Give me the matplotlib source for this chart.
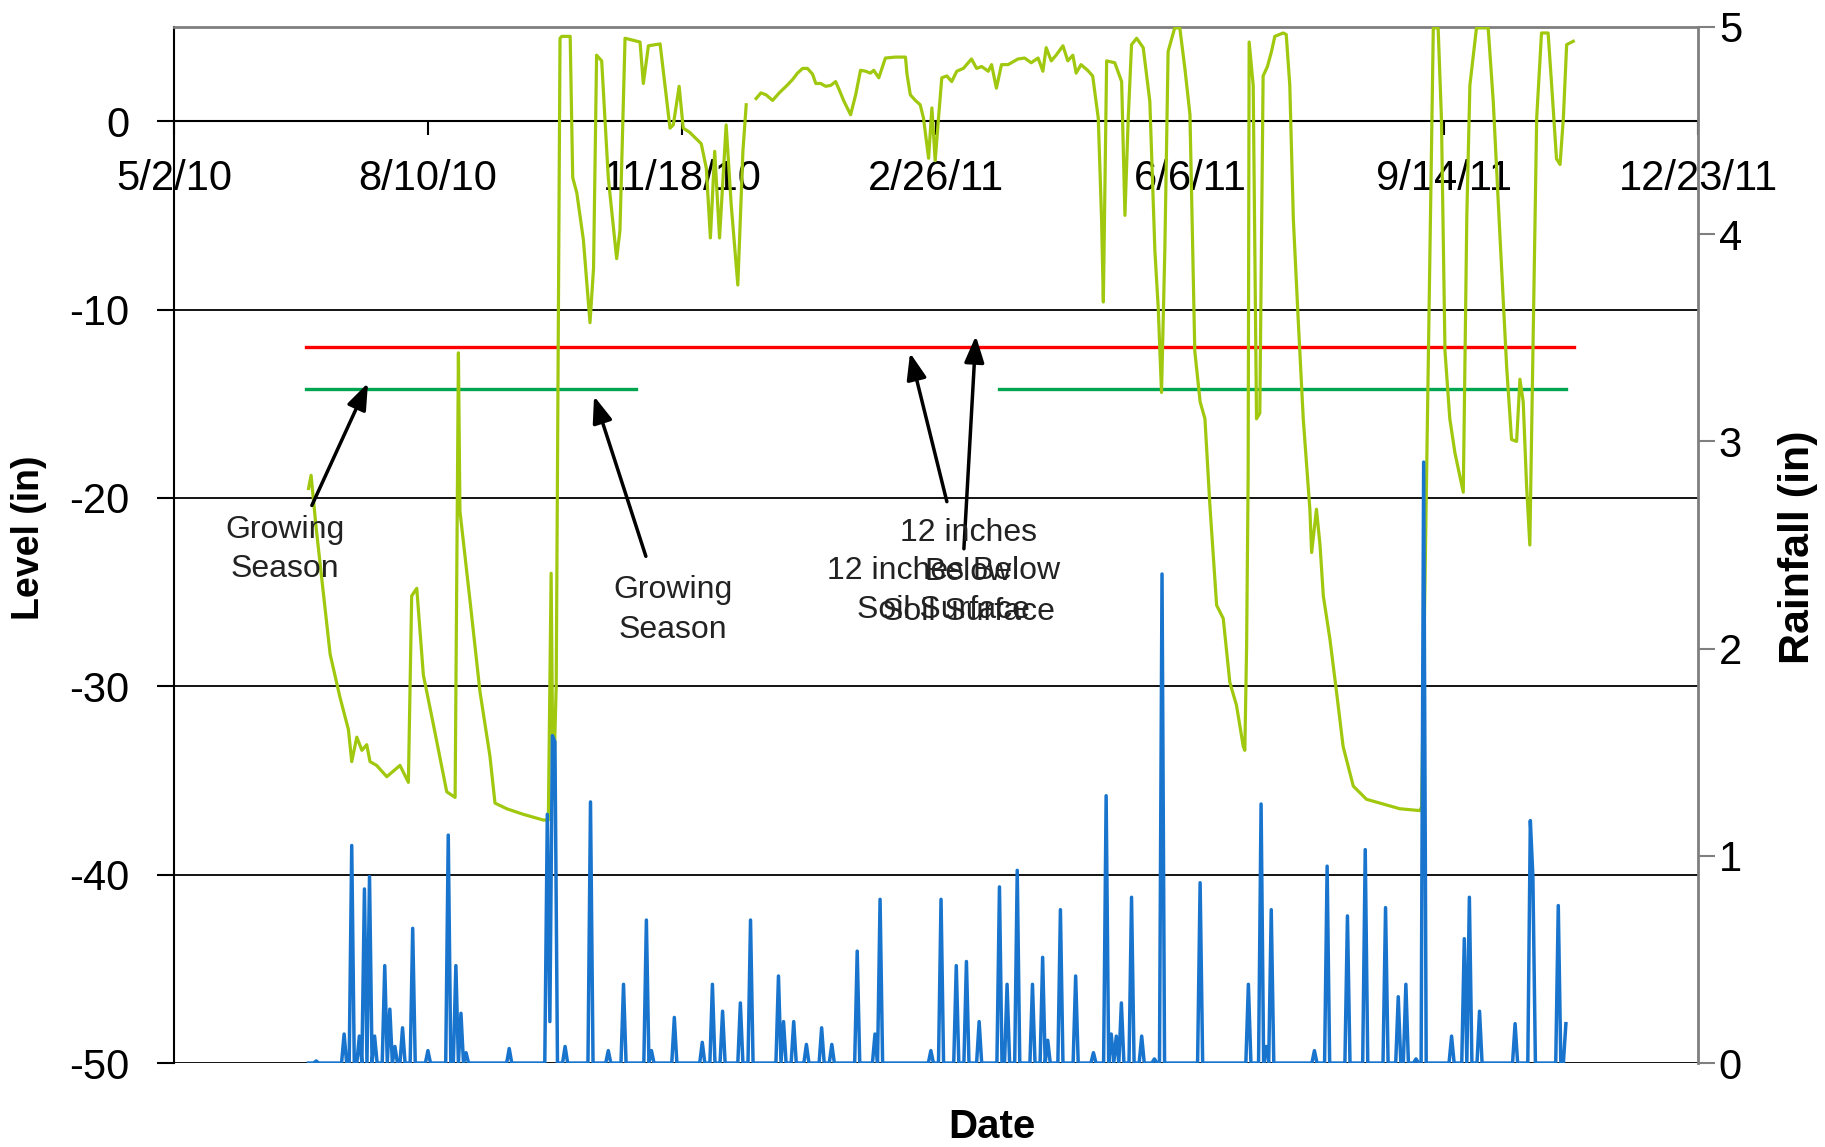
import matplotlib
matplotlib.use("Agg")
import matplotlib.pyplot as plt
import numpy as np

plt.rcParams['font.family'] = ['Liberation Sans', 'DejaVu Sans']
plt.rcParams['axes.unicode_minus'] = False

# x values are days since 5/2/10
tick_days = [0, 100, 200, 300, 400, 500, 600]
tick_labels = ["5/2/10", "8/10/10", "11/18/10", "2/26/11", "6/6/11", "9/14/11", "12/23/11"]

level_days = [53, 54, 56, 58.8, 61.5, 65.4, 68.7, 70, 72, 74, 75.9, 77.2, 79.8, 83.8, 86.4, 89, 92.3,
              93.6, 95.6, 98.2, 102.1, 107.4, 110.7, 112, 112.6, 116.6, 120.5, 124.4, 126.4, 131,
              137.6, 145.4, 147.4, 148.5, 149.3, 150.5, 152, 152.7, 156, 157, 158.6, 161.2, 163.8,
              165.2, 166.4, 168.4, 171, 174.3, 175.6, 177.6, 183.5, 184.8, 186.8, 191.4, 195.3,
              196.6, 198.9, 200.5, 203.1, 207.6, 209.6, 211.2, 212.9, 214.8, 217.4, 219.4, 222,
              224, 225.3, 227, 229.2, 231.1, 233.1, 235.7, 238.3, 241, 243.5, 245.5, 247.5, 249.4,
              251.4, 252.7, 254.6, 256.6, 258.6, 260.5, 261.8, 263.8, 266.4, 268.4, 270.3, 272.3,
              274.2, 275.5, 277.5, 280.1, 284, 288, 288.6, 289.9, 291.9, 293.8, 295.1, 297.1, 298.4,
              299.7, 301, 302.3, 304.3, 306.2, 308.2, 310.8, 314, 316, 318, 320.6, 321.9, 323.8,
              325.8, 328.4, 332.3, 334.9, 337.5, 340.2, 342.1, 343.4, 345.4, 347.3, 350, 351.9,
              353.9, 355.2, 357.1, 359.7, 361.7, 363.9, 365.2, 365.9, 367.2, 370.4, 373.1, 374.4,
              375.7, 377, 379, 381.6, 384.2, 386.2, 387.5, 388.8, 390.1, 391.4, 394, 396, 398, 400,
              401.9, 404, 405.9, 407.8, 410.5, 413.1, 415.7, 418.3, 421, 421.6, 422.3, 422.9, 423.3,
              424.9, 426.2, 427.5, 428.8, 430.5, 432.1, 433.4, 436.7, 437.9, 439.3, 440.7, 442.6,
              444.6, 447.2, 447.9, 449.8, 451.2, 452.5, 455.1, 457.7, 460.3, 464.3, 469.5, 474.8,
              482.6, 490.5, 491.2, 495.8, 497.7, 499, 500.4, 502.3, 504.3, 507.6, 509, 510.2, 512.8,
              517.4, 519.4, 522, 524.7, 526.6, 528.6, 529.9, 531.2, 532.5, 533.8, 536.5, 538.4, 541,
              542.4, 544.3, 545.7, 547, 548.3, 550.9]
level_vals = [-19.5, -18.8, -21.6, -25, -28.3, -30.6, -32.3, -34, -32.7, -33.4, -33.1, -34, -34.2,
              -34.8, -34.5, -34.2, -35.1, -25.2, -24.8, -29.4, -32, -35.6, -35.9, -12.3, -20.7,
              -25.5, -30.3, -33.7, -36.2, -36.5, -36.8, -37.1, -37.1, -24, -36, -30, 4.4, 4.5, 4.5,
              -3, -3.8, -6.3, -10.7, -7.8, 3.5, 3.2, -3, -7.3, -5.8, 4.4, 4.2, 2, 4, 4.1, -0.37,
              -0.2, 1.85, -0.37, -0.6, -1.2, -2.5, -6.2, -1.6, -6.2, -0.2, -4.45, -8.7, -1.6, 0.87,
              np.nan, 1.2, 1.5, 1.4, 1.1, 1.5, 1.85, 2.2, 2.55, 2.8, 2.8, 2.5, 2.0, 2.0, 1.85, 1.9,
              2.1, 1.7, 1.05, 0.34, 1.4, 2.7, 2.65, 2.55, 2.7, 2.3, 3.35, 3.4, 3.4, 2.5, 1.4, 1.1,
              0.87, 0.16, -1.97, 0.7, -2.1, 0.16, 2.3, 2.4, 2.1, 2.65, 2.8, 3.3, 2.8, 2.9, 2.65,
              3.0, 1.75, 3.0, 3.0, 3.3, 3.35, 3.1, 3.35, 2.65, 3.9, 3.2, 3.5, 4.0, 3.2, 3.5, 2.55,
              3.0, 2.7, 2.4, 0.16, -5.2, -9.6, 3.2, 3.1, 2.1, -5, 0.16, 4.06, 4.4, 3.9, 1.05, -6.9,
              -9.9, -14.4, -6.9, 3.7, 4.95, 4.95, 2.8, 0.34, -12.2, -14.9, -15.8, -20.3, -25.7,
              -26.4, -29.8, -31, -33.2, -33.4, -27.9, -19, 4.2, 1.9, -15.8, -15.5, 2.4, 2.9, 3.7,
              4.5, 4.68, 4.6, 1.9, -5.2, -10.5, -15.8, -20.6, -22.9, -20.6, -22.5, -25.2, -27.5,
              -30.3, -33.2, -35.3, -36, -36.2, -36.5, -36.6, -36.4, 4.95, 4.95, 0.16, -12.2, -15.8,
              -17.6, -19.7, -5, 1.9, 4.95, 4.95, 1.05, -6, -13.1, -16.9, -17, -13.7, -14.9, -19.3,
              -22.5, 0.16, 4.68, 4.68, 1.9, -2, -2.3, 0.16, 4.06, 4.24]

rain_first_day = 53
rain_last_day = 548
rain_days = [56, 67, 70, 73, 75, 77, 79, 83, 85, 87, 90, 94, 100, 108, 111, 113, 115, 132, 147, 148,
             149, 150, 154, 164, 171, 177, 186, 188, 197, 208, 212, 216, 223, 227, 238, 240, 244,
             249, 255, 259, 269, 276, 278, 298, 302, 308, 312, 317, 325, 328, 332, 338, 342, 344,
             349, 355, 362, 367, 369, 371, 373, 377, 381, 386, 389, 404, 423, 428, 430, 432, 449,
             454, 462, 469, 477, 482, 485, 489, 492, 503, 508, 510, 514, 528, 534, 535, 545, 548]
rain_vals = [0.01, 0.14, 1.05, 0.13, 0.84, 0.9, 0.13, 0.47, 0.26, 0.08, 0.17, 0.65, 0.06, 1.1, 0.47,
             0.24, 0.05, 0.07, 1.2, 0.2, 1.58, 1.55, 0.08, 1.26, 0.06, 0.38, 0.69, 0.06, 0.22, 0.1,
             0.38, 0.25, 0.29, 0.69, 0.42, 0.2, 0.2, 0.09, 0.17, 0.09, 0.54, 0.14, 0.79, 0.06, 0.79,
             0.47, 0.49, 0.2, 0.85, 0.38, 0.93, 0.38, 0.51, 0.11, 0.74, 0.42, 0.05, 1.29, 0.14,
             0.13, 0.29, 0.8, 0.13, 0.02, 2.36, 0.87, 0.38, 1.25, 0.08, 0.74, 0.06, 0.95, 0.71,
             1.03, 0.75, 0.32, 0.38, 0.02, 2.9, 0.13, 0.6, 0.8, 0.25, 0.19, 1.17, 0.9, 0.76, 0.19]

limit_days = [52, 551]
limit_level = -12
season_days = [[52, 182], [325, 548]]
season_level = -14.2

fig = plt.figure(figsize=(18.25, 11.47), dpi=100)
ax = fig.add_axes([0.0953, 0.0732, 0.8351, 0.9033])
ax.set_xlim(0, 600)
ax.set_ylim(-50, 5)
ax.set_yticks(np.arange(-50, 1, 10))
ax.set_xticks(tick_days)
ax.set_xticklabels(tick_labels)
ax.set_axisbelow(True)
ax.yaxis.grid(True, color='black', lw=1.3)

ax.spines['bottom'].set_position(('data', 0))
ax.spines['bottom'].set_linewidth(1.5)
ax.spines['left'].set_linewidth(1.5)
ax.spines['top'].set_color('#7f7f7f')
ax.spines['top'].set_linewidth(2)
ax.spines['right'].set_visible(False)
ax.tick_params(axis='x', direction='out', length=10, width=1.5, pad=17, labelsize=30)
ax.tick_params(axis='y', direction='out', length=12, width=1.5, pad=20, labelsize=30)

ax.plot(limit_days, [limit_level, limit_level], color='#ff0000', lw=2.4, zorder=2)
for seg in season_days:
    ax.plot(seg, [season_level, season_level], color='#00a550', lw=2.4, zorder=2)
ax.plot(level_days, level_vals, color='#a0c80f', lw=2.3, zorder=3)

ax2 = ax.twinx()
ax2.set_ylim(0, 5)
ax2.set_yticks(range(0, 6))
for s in ['left', 'top', 'bottom']:
    ax2.spines[s].set_visible(False)
ax2.spines['right'].set_color('#7f7f7f')
ax2.spines['right'].set_linewidth(2)
ax2.tick_params(axis='y', direction='out', length=12, width=1.5, color='#7f7f7f', pad=3, labelsize=30)

rain_x = np.arange(rain_first_day, rain_last_day + 1)
rain_y = np.zeros(len(rain_x))
for d, v in zip(rain_days, rain_vals):
    rain_y[d - rain_first_day] = v
ax2.plot(rain_x, rain_y, color='#1874cd', lw=2.5)

# annotations
arrow = dict(arrowstyle='-|>,head_length=0.8,head_width=0.3', color='black', lw=2.5,
             mutation_scale=20, shrinkA=0, shrinkB=0)
ax.annotate('', xy=(76.4, -13.9), xytext=(54.3, -20.4), arrowprops=arrow)
ax.annotate('', xy=(165.4, -14.6), xytext=(185.8, -23.1), arrowprops=arrow)
ax.annotate('', xy=(315.7, -11.4), xytext=(311, -22.7), arrowprops=arrow)
ax.annotate('', xy=(289.8, -12.3), xytext=(304.3, -20.2), arrowprops=arrow)

txt = dict(ha='center', va='center', fontsize=23, color='#222222', linespacing=1.4)
ax.text(43.7, -22.75, "Growing\nSeason", **txt)
ax.text(196.4, -25.95, "Growing\nSeason", **txt)
ax.text(302.8, -24.9, "12 inches Below\nSoil Surface", **txt)
ax.text(312.7, -23.95, "12 inches\nBelow\nSoil Surface", **txt)

fig.text(0.5436, 0.0174, "Date", ha='center', va='center', fontsize=29, fontweight='bold')
fig.text(0.016, 0.531, "Level (in)", ha='center', va='center', rotation=90, fontsize=27,
         fontweight='bold')
fig.text(0.985, 0.523, "Rainfall (in)", ha='center', va='center', rotation=90, fontsize=31,
         fontweight='bold')

fig.savefig("out.png", dpi=100)
